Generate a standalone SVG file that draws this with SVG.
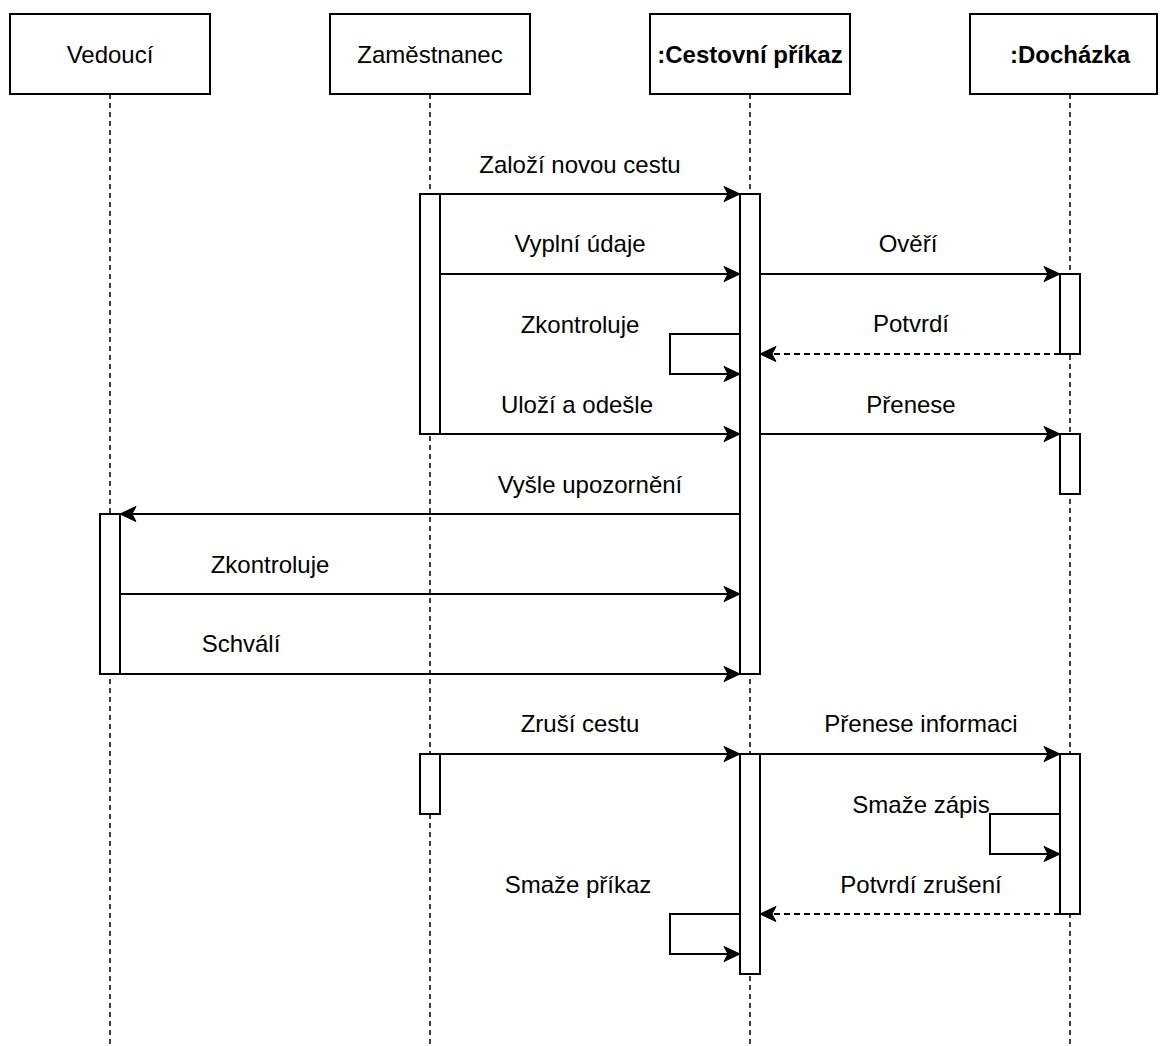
<svg xmlns="http://www.w3.org/2000/svg" width="1160" height="1046" viewBox="0 0 1160 1046">
  <style>
    .head { fill: #ffffff; stroke: #000000; stroke-width: 2; }
    .life { fill: none; stroke: #000000; stroke-width: 1.5; stroke-dasharray: 5 4; }
    .act { fill: #ffffff; stroke: #000000; stroke-width: 2; }
    .msg { fill: none; stroke: #000000; stroke-width: 2; marker-end: url(#arrow); }
    .ret { fill: none; stroke: #000000; stroke-width: 2; stroke-dasharray: 6 4; marker-end: url(#arrow); }
    text { font-family: "Liberation Sans", Arial, sans-serif; font-size: 24px; fill: #000000; text-anchor: middle; }
    .bold { font-weight: bold; }
  </style>
  <defs>
    <marker id="arrow" markerUnits="userSpaceOnUse" markerWidth="18" markerHeight="16" refX="17" refY="8" orient="auto">
      <path d="M17,8 L1,0.5 L5,8 L1,15.5 Z" fill="#000000" stroke="#000000" stroke-width="1" stroke-linejoin="miter"/>
    </marker>
  </defs>

  <rect width="1160" height="1046" fill="#ffffff"/>

  <!-- lifelines -->
  <g id="lifelines">
    <line class="life" x1="110" y1="94" x2="110" y2="1046"/>
    <line class="life" x1="430" y1="94" x2="430" y2="1046"/>
    <line class="life" x1="750" y1="94" x2="750" y2="1046"/>
    <line class="life" x1="1070" y1="94" x2="1070" y2="1046"/>
  </g>

  <!-- participants -->
  <g id="vedouci">
    <rect class="head" x="10" y="14" width="200" height="80"/>
    <text x="110" y="63">Vedoucí</text>
  </g>
  <g id="zamestnanec">
    <rect class="head" x="330" y="14" width="200" height="80"/>
    <text x="430" y="63">Zaměstnanec</text>
  </g>
  <g id="cestovni-prikaz">
    <rect class="head" x="650" y="14" width="200" height="80"/>
    <text class="bold" x="750" y="63">:Cestovní příkaz</text>
  </g>
  <g id="dochazka">
    <rect class="head" x="970" y="14" width="187" height="80"/>
    <text class="bold" x="1070" y="63">:Docházka</text>
  </g>

  <!-- activation bars -->
  <g id="activations">
    <rect id="act-zam-1" class="act" x="420" y="194" width="20" height="240"/>
    <rect id="act-zam-2" class="act" x="420" y="754" width="20" height="60"/>
    <rect id="act-cp-1" class="act" x="740" y="194" width="20" height="480"/>
    <rect id="act-cp-2" class="act" x="740" y="754" width="20" height="220"/>
    <rect id="act-doch-1" class="act" x="1060" y="274" width="20" height="80"/>
    <rect id="act-doch-2" class="act" x="1060" y="434" width="20" height="60"/>
    <rect id="act-doch-3" class="act" x="1060" y="754" width="20" height="160"/>
    <rect id="act-ved-1" class="act" x="100" y="514" width="20" height="160"/>
  </g>

  <!-- messages -->
  <g id="connectors">
    <path class="msg" d="M440,194 L740,194"/>
    <path class="msg" d="M440,274 L740,274"/>
    <path class="msg" d="M760,274 L1060,274"/>
    <path class="ret" d="M1060,354 L760,354"/>
    <path class="msg" d="M740,334 L670,334 L670,374 L740,374"/>
    <path class="msg" d="M440,434 L740,434"/>
    <path class="msg" d="M760,434 L1060,434"/>
    <path class="msg" d="M740,514 L120,514"/>
    <path class="msg" d="M120,594 L740,594"/>
    <path class="msg" d="M120,674 L740,674"/>
    <path class="msg" d="M440,754 L740,754"/>
    <path class="msg" d="M760,754 L1060,754"/>
    <path class="msg" d="M1060,814 L990,814 L990,854 L1060,854"/>
    <path class="ret" d="M1060,914 L760,914"/>
    <path class="msg" d="M740,914 L670,914 L670,954 L740,954"/>
  </g>

  <!-- message labels -->
  <g id="labels">
    <text x="580" y="173">Založí novou cestu</text>
    <text x="580" y="252">Vyplní údaje</text>
    <text x="908" y="252">Ověří</text>
    <text x="911" y="332">Potvrdí</text>
    <text x="580" y="333">Zkontroluje</text>
    <text x="577" y="413">Uloží a odešle</text>
    <text x="911" y="413">Přenese</text>
    <text x="590" y="493">Vyšle upozornění</text>
    <text x="270" y="573">Zkontroluje</text>
    <text x="241" y="652">Schválí</text>
    <text x="580" y="732">Zruší cestu</text>
    <text x="921" y="732">Přenese informaci</text>
    <text x="921" y="813">Smaže zápis</text>
    <text x="921" y="893">Potvrdí zrušení</text>
    <text x="578" y="893">Smaže příkaz</text>
  </g>
</svg>
